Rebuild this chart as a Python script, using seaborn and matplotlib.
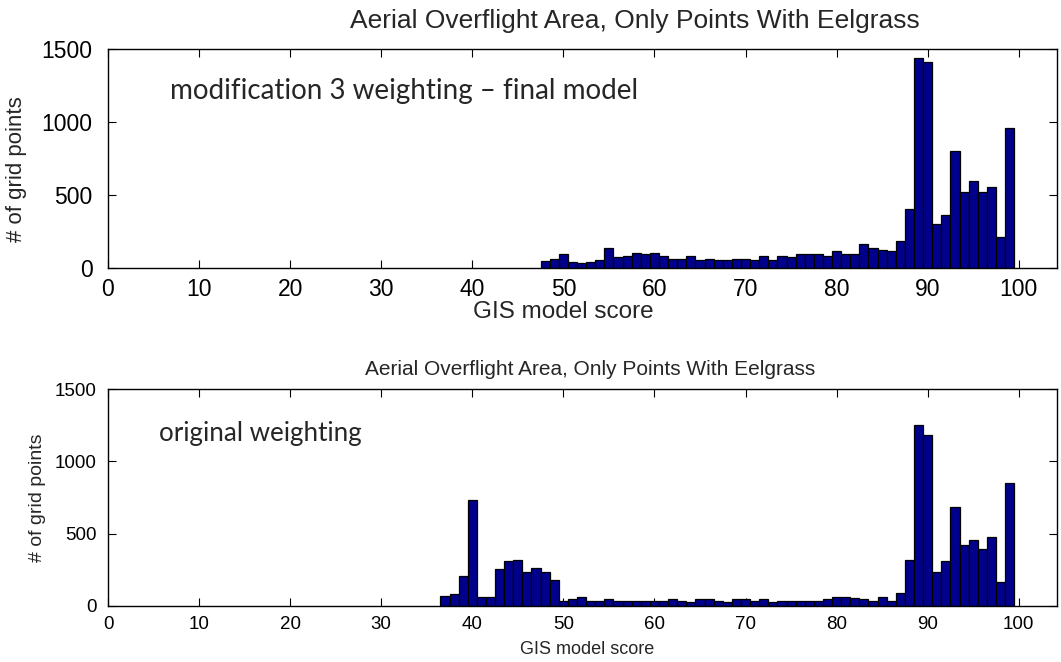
import numpy as np
import pandas as pd
import matplotlib
matplotlib.use("Agg")
import matplotlib.pyplot as plt
import seaborn as sns

# ---- data ----
scores_top = list(range(48, 100))
counts_top = [50, 62, 94, 41, 32, 41, 53, 135, 73, 84,
              105, 96, 105, 84, 62, 62, 84, 53, 62, 53,
              53, 62, 62, 53, 84, 53, 84, 73, 96, 96,
              96, 84, 114, 96, 96, 167, 135, 126, 114, 187,
              406, 1440, 1410, 304, 365, 801, 520, 596, 520, 553,
              210, 959]

scores_bot = list(range(37, 100))
counts_bot = [67, 85, 205, 730, 60, 60, 253, 309, 320, 233,
              263, 233, 177, 35, 46, 65, 35, 35, 46, 35,
              35, 35, 35, 35, 35, 46, 37, 28, 46, 46,
              35, 28, 46, 46, 35, 46, 28, 35, 35, 35,
              35, 35, 46, 65, 65, 58, 46, 35, 65, 35,
              92, 316, 1253, 1180, 233, 309, 682, 419, 459, 392,
              477, 168, 853]

title_text = "Aerial Overflight Area, Only Points With Eelgrass"
xlabel_text = "GIS model score"
ylabel_text = "# of grid points"
note_top = "modification 3 weighting \u2013 final model"
note_bot = "original weighting"
xticks = list(range(0, 101, 10))
yticks = [0, 500, 1000, 1500]

sns.set_theme(style="white")
plt.rcParams['font.family'] = ['Liberation Sans', 'DejaVu Sans']

W, H = 1061, 662
fig = plt.figure(figsize=(W / 100, H / 100), dpi=100)

def ax_rect(l, r, t, b):
    return [l / W, 1 - b / H, (r - l) / W, (b - t) / H]

AX_L, AX_R = 108, 1057
AX_W = AX_R - AX_L
ax1 = fig.add_axes(ax_rect(AX_L, AX_R, 49, 268))
ax2 = fig.add_axes(ax_rect(AX_L, AX_R, 389, 606))

bar_color = "#00008C"
XMAX = 104.2


def draw(ax, scores, counts, tick_fs, ypad, xpad, title_fs, title_xy,
         label_fs, label_xy, ylabel_fs, ylabel_xy, note, note_xy, note_fs):
    df = pd.DataFrame({"score": scores, "count": counts})
    sns.histplot(data=df, x="score", weights="count", discrete=True, shrink=1,
                 color=bar_color, edgecolor="black", linewidth=0.9, alpha=1,
                 ax=ax, legend=False)
    ax.set_xlim(0, XMAX)
    ax.set_ylim(0, 1500)
    ax.set_xticks(xticks)
    ax.set_yticks(yticks)
    ax.set_xticklabels([str(t) for t in xticks], fontsize=tick_fs)
    ax.set_yticklabels([str(t) for t in yticks], fontsize=tick_fs)
    ax.tick_params(direction="in", length=6, width=0.8, top=True, right=True,
                   bottom=True, left=True, colors="black")
    ax.tick_params(axis="y", pad=ypad)
    ax.tick_params(axis="x", pad=xpad)
    for s in ax.spines.values():
        s.set_visible(True)
        s.set_color("black")
        s.set_linewidth(1.0)
    ax.set_title(title_text, fontsize=title_fs, x=title_xy[0], y=title_xy[1],
                 va="center", pad=0)
    ax.set_xlabel(xlabel_text, fontsize=label_fs)
    ax.xaxis.label.set_va("center")
    ax.xaxis.set_label_coords(*label_xy)
    ax.set_ylabel(ylabel_text, fontsize=ylabel_fs)
    ax.yaxis.label.set_va("center")
    ax.yaxis.set_label_coords(*ylabel_xy)
    ax.text(note_xy[0], note_xy[1], note, fontsize=note_fs, va="center", ha="left",
            family=["Lato", "DejaVu Sans"])


# top panel: axes 49..268 px (219 px tall)
draw(ax1, scores_top, counts_top,
     tick_fs=16.5, ypad=11, xpad=7,
     title_fs=19, title_xy=((635 - AX_L) / AX_W, 1 + (49 - 21) / 219),
     label_fs=17.5, label_xy=((563 - AX_L) / AX_W, -(312 - 268) / 219),
     ylabel_fs=16, ylabel_xy=((17 - AX_L) / AX_W, 0.45),
     note=note_top, note_xy=(6.8, 1210), note_fs=20)

# bottom panel: axes 389..606 px (217 px tall)
draw(ax2, scores_bot, counts_bot,
     tick_fs=13.5, ypad=8, xpad=7,
     title_fs=15, title_xy=((590 - AX_L) / AX_W, 1 + (389 - 369) / 217),
     label_fs=13, label_xy=((587 - AX_L) / AX_W, -(649 - 606) / 217),
     ylabel_fs=14, ylabel_xy=((38 - AX_L) / AX_W, 0.5),
     note=note_bot, note_xy=(5.6, 1190), note_fs=18.7)

fig.savefig("out.png", dpi=100)
